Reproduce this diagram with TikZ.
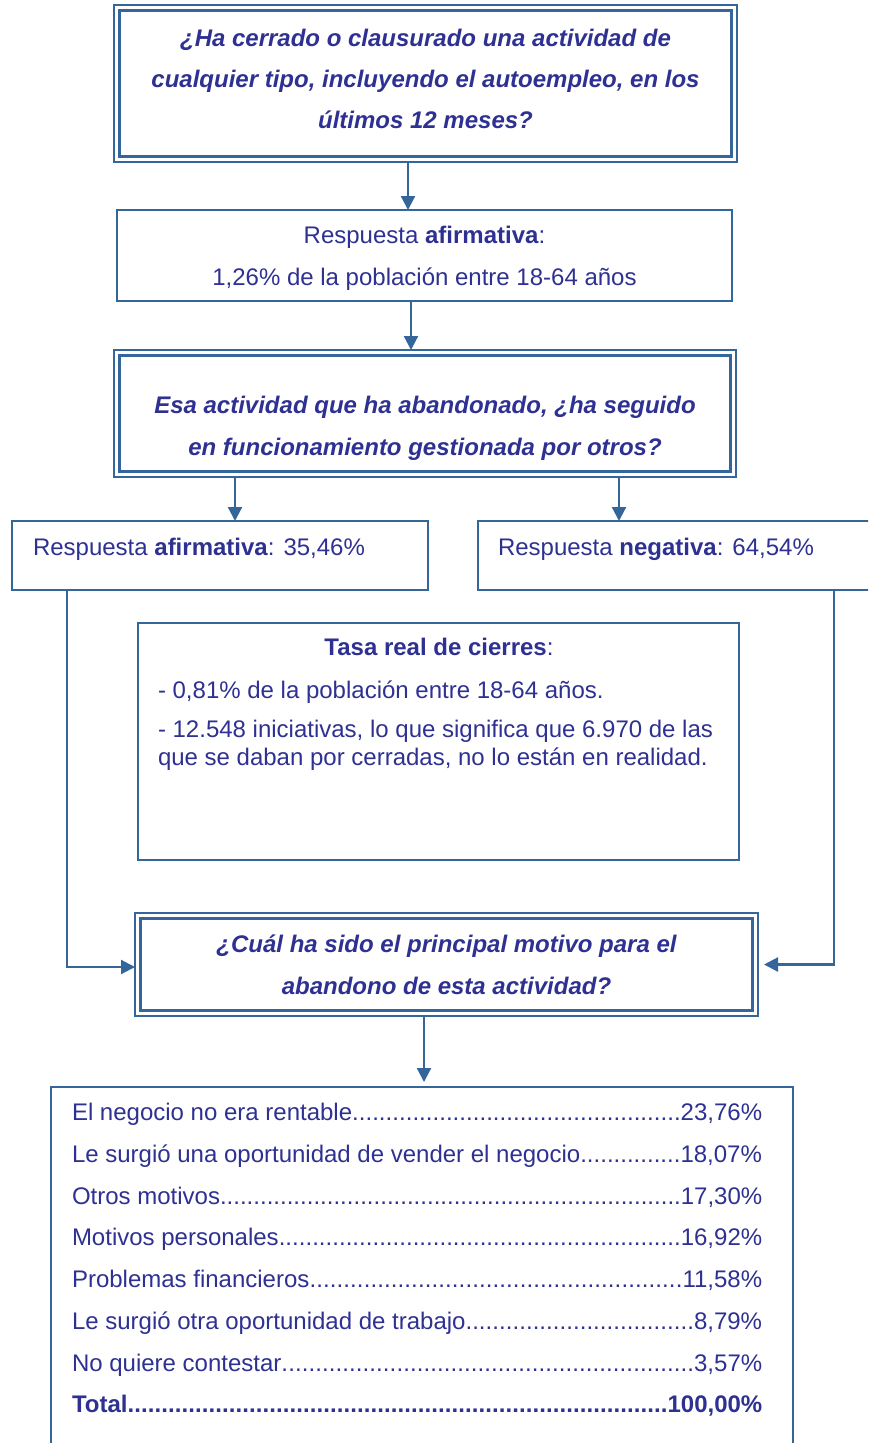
\documentclass[tikz,border=0pt]{standalone}
\usepackage{fontspec}
\setmainfont{Liberation Sans}
\usetikzlibrary{arrows.meta}
\definecolor{txt}{RGB}{46,49,146}
\definecolor{ln}{RGB}{52,102,153}
\newcommand{\lrow}[2]{\makebox[690pt][l]{#1\xleaders\hbox{.}\hfill#2}}
\begin{document}
\begin{tikzpicture}[x=1pt,y=-1pt,
  box/.style={draw=ln,line width=1.8pt,inner sep=0pt,outer sep=0pt,rectangle},
  dbox/.style={draw=ln,line width=1.6pt,inner sep=0pt,outer sep=0pt,rectangle},
  inline/.style={draw=ln,line width=2.6pt},
  lbl/.style={text=txt,inner sep=0pt,outer sep=0pt,font=\fontsize{24}{28}\selectfont,anchor=base},
  lblw/.style={lbl,anchor=base west},
  qlbl/.style={lbl,font=\fontsize{24}{28}\selectfont\bfseries\itshape},
  arr/.style={draw=ln,line width=2.2pt,-{Triangle[width=14pt,length=14pt]}},
  con/.style={draw=ln,line width=2.2pt}]
\useasboundingbox (0,0) rectangle (868,1443);
\clip (0,0) rectangle (868,1443);
\fill[white] (0,0) rectangle (868,1443);

% x positions of connectors
\coordinate (xa) at (408,0);
\coordinate (xb) at (411,0);
\coordinate (xc) at (235,0);
\coordinate (xd) at (619,0);
\coordinate (xe) at (67,0);
\coordinate (xf) at (834,0);
\coordinate (xg) at (424,0);

% boxes
\node[dbox,minimum width=623pt,minimum height=157pt] (b1) at (425.5,83.5) {};
\draw[inline] ([shift={(5.5,5.5)}]b1.north west) rectangle ([shift={(-5.5,-5.5)}]b1.south east);
\node[box,minimum width=615pt,minimum height=91pt] (b2) at (424.5,255.5) {};
\node[dbox,minimum width=622pt,minimum height=127pt] (b3) at (425,413.5) {};
\draw[inline] ([shift={(5.5,5.5)}]b3.north west) rectangle ([shift={(-5.5,-5.5)}]b3.south east);
\node[box,minimum width=416pt,minimum height=69pt] (b4) at (220,555.5) {};
\node[box,minimum width=402pt,minimum height=69pt] (b5) at (679,555.5) {};
\node[box,minimum width=601pt,minimum height=237pt] (tasa) at (438.5,741.5) {};
\node[dbox,minimum width=623pt,minimum height=103pt] (b6) at (446.5,964.5) {};
\draw[inline] ([shift={(5.5,5.5)}]b6.north west) rectangle ([shift={(-5.5,-5.5)}]b6.south east);
\node[box,minimum width=742pt,minimum height=373pt] (b7) at (422,1273.5) {};

% texts
\node[qlbl] (t1a) at (425.5,46) {¿Ha cerrado o clausurado una actividad de};
\node[qlbl] (t1b) at (425.5,87) {cualquier tipo, incluyendo el autoempleo, en los};
\node[qlbl] (t1c) at (425.5,128) {últimos 12 meses?};

\node[lbl] (t2a) at (424.5,243) {Respuesta \textbf{afirmativa}:};
\node[lbl] (t2b) at (424.5,285) {1,26\% de la población entre 18-64 años};

\node[qlbl] (t3a) at (425,413) {Esa actividad que ha abandonado, ¿ha seguido};
\node[qlbl] (t3b) at (425,455) {en funcionamiento gestionada por otros?};

\node[lblw] (t4) at (33,555) {Respuesta \textbf{afirmativa}: 35,46\%};
\node[lblw] (t5) at (498,555) {Respuesta \textbf{negativa}: 64,54\%};

\node[lbl] (tt0) at (439,655) {\textbf{Tasa real de cierres}:};
\node[lblw] (tt1) at (158,698) {- 0,81\% de la población entre 18-64 años.};
\node[lblw] (tt2) at (158,737) {- 12.548 iniciativas, lo que significa que 6.970 de las};
\node[lblw] (tt3) at (158,765) {que se daban por cerradas, no lo están en realidad.};

\node[qlbl] (t6a) at (446.5,952) {¿Cuál ha sido el principal motivo para el};
\node[qlbl] (t6b) at (446.5,994) {abandono de esta actividad?};

\node[lblw] (r1) at (72,1120) {\lrow{El negocio no era rentable}{23,76\%}};
\node[lblw] (r2) at (72,1162) {\lrow{Le surgió una oportunidad de vender el negocio}{18,07\%}};
\node[lblw] (r3) at (72,1204) {\lrow{Otros motivos}{17,30\%}};
\node[lblw] (r4) at (72,1245) {\lrow{Motivos personales}{16,92\%}};
\node[lblw] (r5) at (72,1287) {\lrow{Problemas financieros}{11,58\%}};
\node[lblw] (r6) at (72,1329) {\lrow{Le surgió otra oportunidad de trabajo}{8,79\%}};
\node[lblw] (r7) at (72,1371) {\lrow{No quiere contestar}{3,57\%}};
\node[lblw] (r8) at (72,1412) {\bfseries\lrow{Total}{100,00\%}};

% connectors
\draw[arr] (b1.south -| xa) -- (b2.north -| xa);
\draw[arr] (b2.south -| xb) -- (b3.north -| xb);
\draw[arr] (b3.south -| xc) -- (b4.north -| xc);
\draw[arr] (b3.south -| xd) -- (b5.north -| xd);
\draw[arr] (b4.south -| xe) |- ([yshift=-2.5pt]b6.west);
\draw[arr] (b5.south -| xf) |- ([xshift=6pt]b6.east);
\draw[arr] (b6.south -| xg) -- ([yshift=5pt]b7.north -| xg);
\end{tikzpicture}
\end{document}
